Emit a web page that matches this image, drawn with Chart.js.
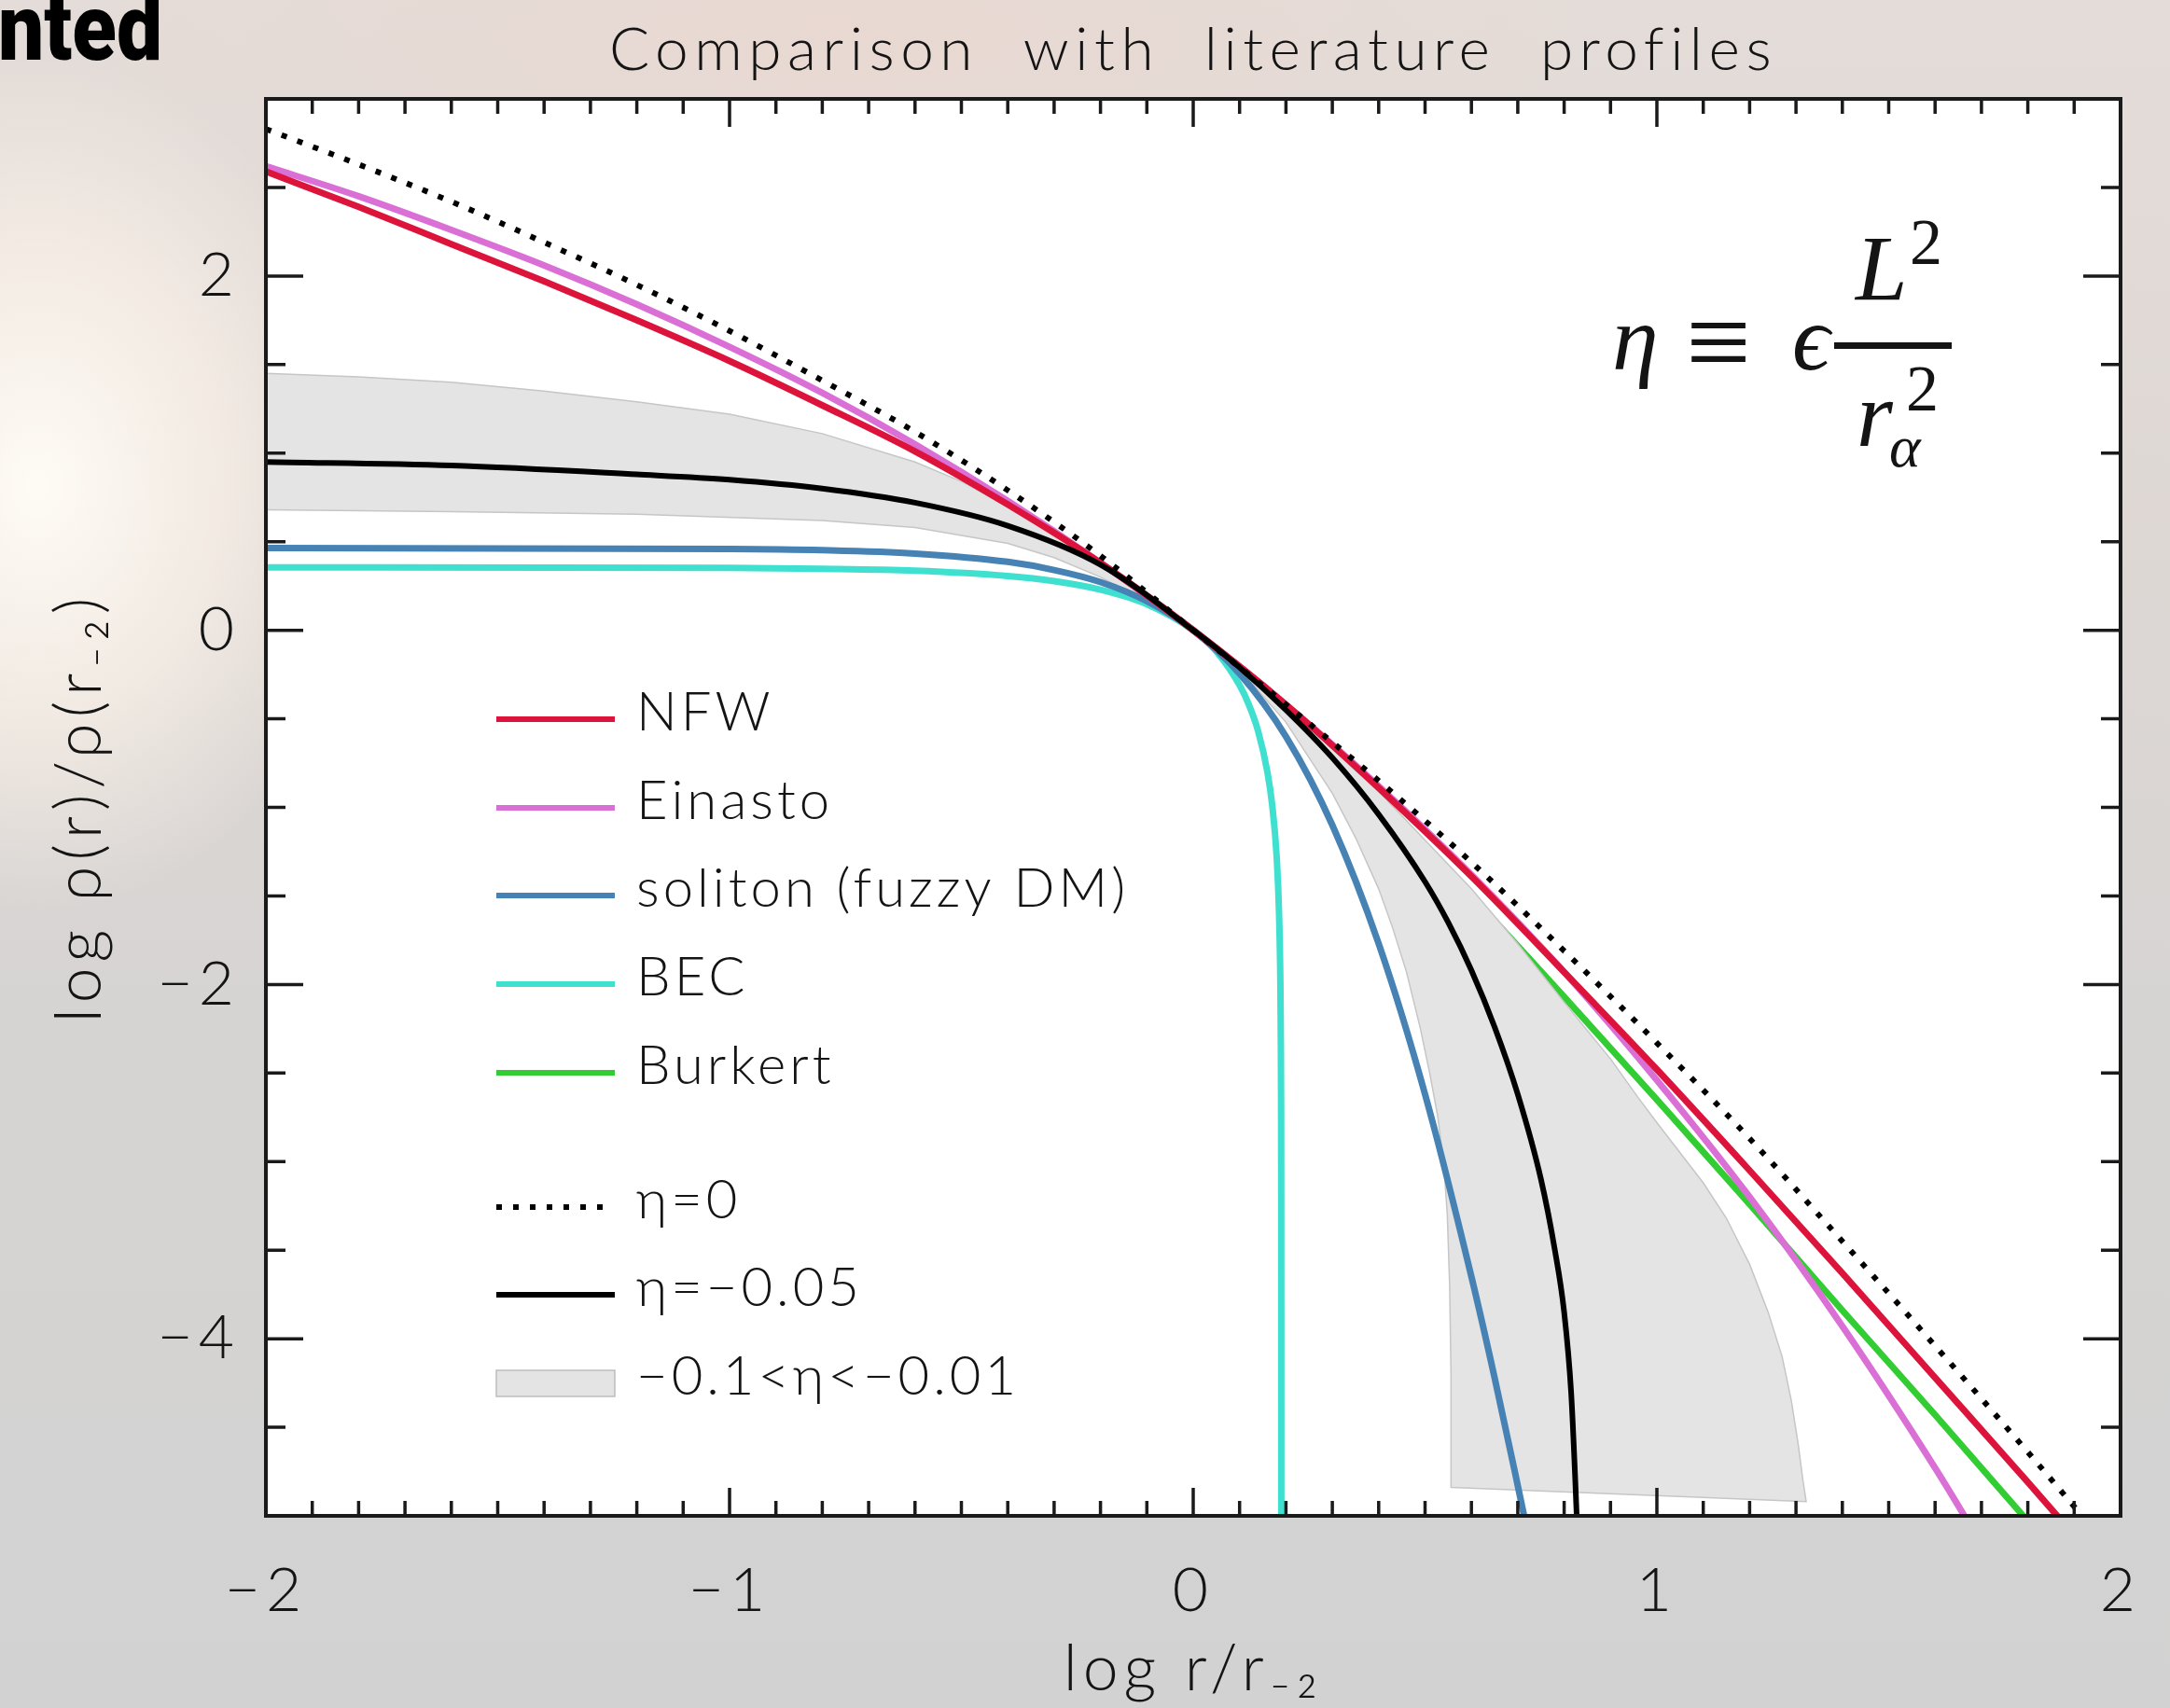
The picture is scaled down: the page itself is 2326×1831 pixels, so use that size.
<!DOCTYPE html>
<html>
<head>
<meta charset="utf-8">
<title>Comparison with literature profiles</title>
<script src="https://cdn.jsdelivr.net/npm/chart.js@4.4.1/dist/chart.umd.min.js"></script>
<style>
  html, body { margin: 0; padding: 0; }
  body {
    width: 2326px; height: 1831px; overflow: hidden;
    background:
      radial-gradient(ellipse 360px 460px at 40px 520px, rgba(255,252,246,0.98), rgba(255,246,236,0.6) 55%, rgba(255,240,230,0) 100%),
      radial-gradient(ellipse 800px 240px at 900px 30px, rgba(236,214,206,0.6), rgba(236,214,206,0) 100%),
      linear-gradient(to bottom, #e4dcd8 0%, #ddd7d4 35%, #d6d4d3 60%, #d2d2d2 100%);
  }
  canvas { display: block; }
</style>
</head>
<body>
<canvas id="chart" width="2326" height="1831"></canvas>
<script>
// density profiles: [log r/r-2, log rho(r)/rho(r-2)]
const nfw = [[-2.0,2.59],[-1.8,2.39],[-1.6,2.18],[-1.4,1.97],[-1.2,1.75],[-1.0,1.52],[-0.8,1.27],[-0.6,1.01],
  [-0.4,0.71],[-0.2,0.38],[0,0],[0.2,-0.42],[0.4,-0.89],[0.6,-1.39],[0.8,-1.93],[1.0,-2.48],[1.2,-3.05],
  [1.4,-3.63],[1.6,-4.22],[1.8,-4.81],[1.9,-5.11]];
const einasto = [[-2.0,2.62],[-1.8,2.45],[-1.6,2.26],[-1.4,2.06],[-1.2,1.84],[-1.0,1.60],[-0.8,1.34],[-0.6,1.05],
  [-0.4,0.73],[-0.2,0.38],[0,0],[0.2,-0.42],[0.4,-0.88],[0.6,-1.38],[0.8,-1.93],[1.0,-2.54],[1.2,-3.20],
  [1.4,-3.93],[1.6,-4.73],[1.7,-5.16]];
const soliton = [[-2.0,0.464],[-1.0,0.459],[-0.8,0.452],[-0.6,0.433],[-0.4,0.386],[-0.3,0.34],[-0.2,0.272],
  [-0.1,0.164],[0,0],[0.1,-0.245],[0.2,-0.60],[0.3,-1.10],[0.4,-1.77],[0.5,-2.62],[0.6,-3.65],[0.65,-4.22],
  [0.7,-4.83],[0.72,-5.08]];
const bec = [[-2.0,0.355],[-1.0,0.352],[-0.8,0.347],[-0.6,0.336],[-0.4,0.306],[-0.3,0.277],[-0.2,0.229],
  [-0.1,0.147],[0,0],[0.05,-0.12],[0.1,-0.31],[0.12,-0.42],[0.14,-0.57],[0.16,-0.80],[0.17,-0.98],[0.18,-1.28],
  [0.185,-1.59],[0.188,-2.0],[0.189,-2.33],[0.1895,-2.68],[0.1898,-3.2],[0.18995,-5.2]];
const burkert = [[-2.0,0.915],[-1.6,0.904],[-1.2,0.878],[-1.0,0.85],[-0.8,0.80],[-0.6,0.72],[-0.4,0.58],
  [-0.2,0.35],[0,0],[0.2,-0.44],[0.4,-0.95],[0.6,-1.50],[0.8,-2.07],[1.0,-2.65],[1.2,-3.24],[1.4,-3.84],
  [1.6,-4.43],[1.8,-5.03]];
const eta0 = [[-2.0,2.83],[-1.8,2.63],[-1.6,2.42],[-1.4,2.19],[-1.2,1.95],[-1.0,1.69],[-0.8,1.41],[-0.6,1.12],
  [-0.4,0.79],[-0.2,0.42],[0,0],[0.2,-0.42],[0.4,-0.85],[0.6,-1.31],[0.8,-1.81],[1.0,-2.33],[1.2,-2.87],
  [1.4,-3.45],[1.6,-4.04],[1.8,-4.64],[1.93,-5.04]];
const eta005 = [[-2.0,0.95],[-1.6,0.93],[-1.2,0.88],[-1.0,0.85],[-0.8,0.80],[-0.6,0.72],[-0.4,0.59],[-0.2,0.37],
  [0,0],[0.1,-0.21],[0.2,-0.45],[0.3,-0.72],[0.4,-1.04],[0.5,-1.42],[0.55,-1.65],[0.6,-1.92],[0.65,-2.24],
  [0.7,-2.62],[0.75,-3.1],[0.78,-3.5],[0.8,-3.85],[0.815,-4.3],[0.824,-4.8],[0.83,-5.2]];
// shaded range -0.1 < eta < -0.01: upper edge (eta=-0.01) and lower edge (eta=-0.1)
const bandUpper = [[-2.0,1.45],[-1.8,1.43],[-1.6,1.40],[-1.4,1.35],[-1.2,1.29],[-1.0,1.22],[-0.8,1.11],
  [-0.6,0.95],[-0.5,0.84],[-0.4,0.70],[-0.3,0.54],[-0.2,0.37],[-0.1,0.19],[0,0],[0.2,-0.43],[0.4,-0.91],
  [0.6,-1.46],[0.7,-1.77],[0.8,-2.10],[0.9,-2.42],[0.96,-2.64],[1.0,-2.78],[1.05,-2.95],[1.1,-3.12],
  [1.15,-3.32],[1.2,-3.58],[1.24,-3.85],[1.27,-4.1],[1.29,-4.35],[1.305,-4.6],[1.315,-4.8],[1.322,-4.92]];
const bandLower = [[-2.0,0.68],[-1.6,0.67],[-1.2,0.655],[-0.8,0.62],[-0.6,0.58],[-0.4,0.49],[-0.3,0.41],
  [-0.2,0.30],[-0.1,0.16],[0,0],[0.1,-0.22],[0.2,-0.52],[0.3,-0.92],[0.35,-1.17],[0.4,-1.46],[0.43,-1.68],
  [0.46,-1.93],[0.49,-2.25],[0.51,-2.5],[0.527,-2.74],[0.54,-3.0],[0.548,-3.3],[0.553,-3.7],[0.556,-4.2],
  [0.557,-4.84]];

const xTicks = [-2, -1, 0, 1, 2];
const xTickLabels = ['\u22122', '\u22121', '0', '1', '2'];
const yTicks = [-4, -2, 0, 2];
const yTickLabels = ['\u22124', '\u22122', '0', '2'];

const FONT = 'Lato';
const pts = arr => arr.map(p => ({x: p[0], y: p[1]}));

function curve(label, data, color, width, order, extra) {
  return Object.assign({
    label: label, data: pts(data), borderColor: color, backgroundColor: color,
    borderWidth: width, showLine: true, pointRadius: 0, pointHoverRadius: 0,
    fill: false, clip: 0, cubicInterpolationMode: 'monotone', order: order
  }, extra || {});
}

// white plot area, inward ticks on all four sides, frame
const framePlugin = {
  id: 'frame',
  beforeDraw(chart) {
    const {ctx, chartArea: a} = chart;
    ctx.save();
    ctx.fillStyle = '#ffffff';
    ctx.fillRect(a.left, a.top, a.right - a.left, a.bottom - a.top);
    ctx.restore();
    ctx.letterSpacing = '6px';
  },
  afterDraw(chart) {
    const {ctx, chartArea: a, scales: {x, y}} = chart;
    ctx.save();
    ctx.letterSpacing = '0px';
    ctx.strokeStyle = '#1a1a1a';
    ctx.lineWidth = 3.5;
    ctx.beginPath();
    for (let i = -20; i <= 20; i++) {
      const px = x.getPixelForValue(i / 10);
      const len = i % 10 === 0 ? 30 : 16;
      ctx.moveTo(px, a.bottom); ctx.lineTo(px, a.bottom - len);
      ctx.moveTo(px, a.top); ctx.lineTo(px, a.top + len);
    }
    for (let i = -10; i <= 6; i++) {
      const py = y.getPixelForValue(i / 2);
      const len = i % 4 === 0 ? 40 : 21;
      ctx.moveTo(a.left, py); ctx.lineTo(a.left + len, py);
      ctx.moveTo(a.right, py); ctx.lineTo(a.right - len, py);
    }
    ctx.stroke();
    ctx.lineWidth = 4;
    ctx.strokeRect(a.left, a.top, a.right - a.left, a.bottom - a.top);
    ctx.restore();
  }
};

// title, legend inside the plot, the eta definition, and the cut-off slide word
const textPlugin = {
  id: 'texts',
  afterDraw(chart) {
    const {ctx, chartArea: a} = chart;
    ctx.save();
    ctx.fillStyle = '#141414';

    ctx.font = '300 64px ' + FONT;
    ctx.letterSpacing = '6.5px';
    ctx.textAlign = 'center';
    ctx.textBaseline = 'alphabetic';
    ctx.fillText('Comparison  with  literature  profiles', (a.left + a.right) / 2, a.top - 31);

    // legend
    ctx.textAlign = 'left';
    ctx.font = '300 58px ' + FONT;
    ctx.letterSpacing = '4px';
    const ds = chart.data.datasets;
    const rows = [665, 760, 854, 949, 1044, 1188, 1282, 1377];
    const x0 = a.left + 247, x1 = a.left + 374, tx = a.left + 397;
    ds.forEach((d, i) => {
      const ry = a.top + rows[i];
      if (d.fill === 'shape') {
        ctx.fillStyle = d.backgroundColor;
        ctx.fillRect(x0, ry - 14, x1 - x0, 28);
        ctx.strokeStyle = '#bdbdbd';
        ctx.lineWidth = 1.5;
        ctx.strokeRect(x0, ry - 14, x1 - x0, 28);
      } else {
        ctx.strokeStyle = d.borderColor;
        ctx.lineWidth = 6;
        ctx.setLineDash(d.borderDash || []);
        ctx.beginPath();
        ctx.moveTo(x0, ry); ctx.lineTo(d.borderDash ? x1 - 8 : x1, ry);
        ctx.stroke();
        ctx.setLineDash([]);
      }
      ctx.fillStyle = '#141414';
      ctx.fillText(d.label, tx, ry + 12);
    });

    // eta definition
    ctx.letterSpacing = '0px';
    const ex = a.right, ey = a.top;
    ctx.font = 'italic 100px "Liberation Serif"';
    ctx.fillText('\u03b7', ex - 545, ey + 290);
    ctx.font = '124px "Liberation Serif"';
    ctx.fillText('\u2261', ex - 466, ey + 302);
    ctx.font = 'italic 100px "Liberation Serif", "DejaVu Serif"';
    ctx.fillText('\u03f5', ex - 352, ey + 290);
    ctx.fillRect(ex - 307, ey + 261, 126, 7);
    ctx.fillText('L', ex - 284, ey + 215);
    ctx.fillText('r', ex - 283, ey + 372);
    ctx.font = 'italic 64px "Liberation Serif"';
    ctx.fillText('\u03b1', ex - 248, ey + 394);
    ctx.font = '70px "Liberation Serif"';
    ctx.fillText('2', ex - 226, ey + 177);
    ctx.fillText('2', ex - 230, ey + 334);

    // word cut off at the slide edge
    ctx.font = '900 100px Roboto';
    const w = ctx.measureText('nted').width;
    ctx.translate(-2, 0);
    ctx.scale(176 / w, 1);
    ctx.fillStyle = '#000000';
    ctx.fillText('nted', 0, 64);
    ctx.restore();
  }
};

const tickFont = {family: FONT, size: 66, weight: '300'};
const axisFont = {family: FONT, size: 68, weight: '300'};

new Chart(document.getElementById('chart'), {
  type: 'scatter',
  data: {
    datasets: [
      curve('NFW', nfw, '#dc143c', 7, 4),
      curve('Einasto', einasto, '#da70d6', 7, 5),
      curve('soliton (fuzzy DM)', soliton, '#4682b4', 7, 6),
      curve('BEC', bec, '#40e0d0', 7, 7),
      curve('Burkert', burkert, '#32cd32', 7, 10),
      curve('\u03b7=0', eta0, '#000000', 6, 2, {borderDash: [6, 12], borderCapStyle: 'butt'}),
      curve('\u03b7=\u22120.05', eta005, '#000000', 6, 3),
      {
        label: '\u22120.1<\u03b7<\u22120.01',
        data: pts(bandUpper.concat(bandLower.slice().reverse())),
        showLine: true, fill: 'shape', tension: 0,
        backgroundColor: '#e4e4e4', borderColor: '#c6c6c6', borderWidth: 1.5,
        pointRadius: 0, pointHoverRadius: 0, clip: 0, order: 9
      }
    ]
  },
  options: {
    responsive: false,
    animation: false,
    events: [],
    layout: {autoPadding: false, padding: {top: 106, right: 53, left: 0, bottom: 0}},
    plugins: {
      legend: {display: false},
      title: {display: false},
      tooltip: {enabled: false}
    },
    scales: {
      x: {
        type: 'linear', min: -2, max: 2,
        afterBuildTicks: s => { s.ticks = xTicks.map(v => ({value: v})); },
        afterFit: s => { s.height = 206; },
        grid: {display: false},
        border: {display: false},
        ticks: {
          font: tickFont, color: '#141414', padding: 33, maxRotation: 0, autoSkip: false,
          callback: v => xTickLabels[xTicks.indexOf(v)]
        },
        title: {
          display: true, text: 'log r/r\u208b\u2082', color: '#141414',
          font: axisFont, padding: {top: 0, bottom: 0}
        }
      },
      y: {
        type: 'linear', min: -5, max: 3,
        afterBuildTicks: s => { s.ticks = yTicks.map(v => ({value: v})); },
        afterFit: s => { s.width = 285; },
        grid: {display: false},
        border: {display: false},
        ticks: {
          font: tickFont, color: '#141414', padding: 20, autoSkip: false,
          callback: v => yTickLabels[yTicks.indexOf(v)]
        },
        title: {
          display: true, text: 'log \u03c1(r)/\u03c1(r\u208b\u2082)', color: '#141414',
          font: axisFont, padding: {top: 45, bottom: 0}
        }
      }
    }
  },
  plugins: [framePlugin, textPlugin]
});
</script>
</body>
</html>
